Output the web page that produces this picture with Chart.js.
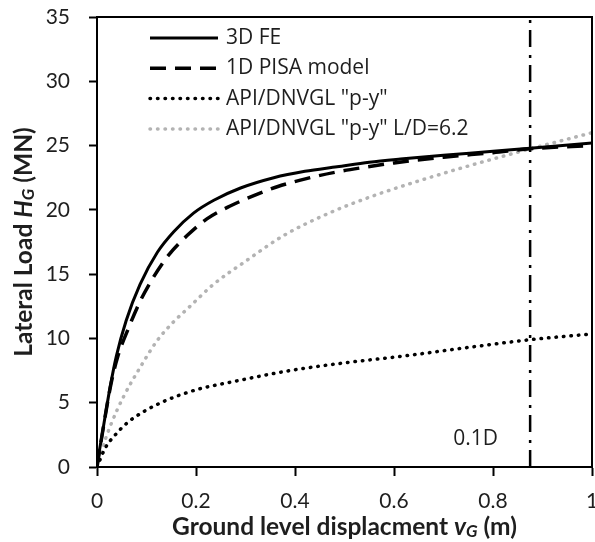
<!DOCTYPE html>
<html>
<head>
<meta charset="utf-8">
<script src="https://cdn.jsdelivr.net/npm/chart.js@4.4.1/dist/chart.umd.min.js"></script>
<style>
  html, body { margin: 0; padding: 0; background: #fff; }
  #wrap { width: 595px; height: 542px; }
</style>
</head>
<body>
<div id="wrap"><canvas id="loadChart" width="595" height="542"></canvas></div>
<script>
// Data (displacement in m, load in MN)
const seriesNames = ['3D FE', '1D PISA model', 'API/DNVGL "p-y"', 'API/DNVGL "p-y" L/D=6.2'];

const dispFE = [0, 0.005, 0.012, 0.0255, 0.039, 0.059, 0.087, 0.122, 0.155, 0.195, 0.236, 0.29, 0.357, 0.42, 0.485, 0.55, 0.613, 0.7, 0.8, 0.875, 1.0];
const loadFE = [0, 1.3, 2.9, 6.0, 8.6, 11.4, 14.2, 16.7, 18.3, 19.75, 20.75, 21.7, 22.5, 23.0, 23.35, 23.7, 23.95, 24.25, 24.55, 24.8, 25.2];

const dispPISA = [0, 0.012, 0.029, 0.042, 0.0626, 0.086, 0.113, 0.145, 0.182, 0.222, 0.269, 0.323, 0.364, 0.425, 0.485, 0.539, 0.6, 0.7, 0.8, 0.875, 1.0];
const loadPISA = [0, 2.9, 6.6, 8.6, 10.7, 12.8, 14.7, 16.5, 18.0, 19.3, 20.3, 21.2, 21.8, 22.45, 22.95, 23.3, 23.65, 24.1, 24.45, 24.75, 25.0];

const dispAPI = [0, 0.017, 0.037, 0.06, 0.094, 0.141, 0.2, 0.283, 0.39, 0.5, 0.613, 0.75, 0.875, 1.0];
const loadAPI = [0, 1.5, 2.5, 3.4, 4.3, 5.2, 6.0, 6.7, 7.5, 8.1, 8.6, 9.3, 9.9, 10.35];

const dispAPI62 = [0, 0.007, 0.027, 0.054, 0.088, 0.121, 0.155, 0.188, 0.235, 0.3, 0.377, 0.472, 0.559, 0.646, 0.749, 0.871, 1.0];
const loadAPI62 = [0, 1.0, 3.2, 5.5, 7.8, 9.8, 11.3, 12.5, 14.2, 16.0, 18.0, 19.8, 21.1, 22.2, 23.4, 24.7, 26.0];

// 0.1D marker (D = 8.75 m)
const markerDisp = 0.875;
const markerLoads = [0, 35];

const xTicks = [0, 0.2, 0.4, 0.6, 0.8, 1];
const yTicks = [0, 5, 10, 15, 20, 25, 30, 35];

const FONT = 'Lato, "Open Sans", sans-serif';
const LEG_FONT = '"Open Sans", Lato, sans-serif';
const TEXT = '#1e1e1e';

function pts(xs, ys) {
  return xs.map((x, i) => ({ x: x, y: ys[i] }));
}

function drawParts(ctx, parts, cx, cy) {
  let total = 0;
  parts.forEach(p => { ctx.font = p.font; p.w = ctx.measureText(p.text).width; total += p.w; });
  let x = cx - total / 2;
  ctx.textBaseline = 'middle';
  ctx.textAlign = 'left';
  parts.forEach(p => {
    ctx.font = p.font;
    ctx.fillText(p.text, x, cy + (p.dy || 0));
    x += p.w;
  });
}

// keep the plot box where the figure has it (no extra room for edge labels)
function noPad(s) {
  s.paddingLeft = 0; s.paddingRight = 0; s.paddingTop = 0; s.paddingBottom = 0;
}

const decorations = {
  id: 'decorations',
  afterDraw(chart) {
    const ctx = chart.ctx;
    const a = chart.chartArea;
    const xs = chart.scales.x, ys = chart.scales.y;
    ctx.save();

    // plot frame
    ctx.strokeStyle = '#000';
    ctx.lineWidth = 2;
    ctx.strokeRect(a.left, a.top, a.right - a.left, a.bottom - a.top);

    // legend
    const lx0 = a.left + 53, lx1 = a.left + 121, tx = a.left + 129;
    chart.data.datasets.slice(0, 4).forEach((ds, i) => {
      const y = a.top + 21 + i * 30.3;
      ctx.beginPath();
      ctx.strokeStyle = ds.borderColor;
      ctx.lineWidth = ds.borderWidth;
      ctx.lineCap = ds.borderCapStyle || 'butt';
      ctx.setLineDash(ds.borderDash || []);
      ctx.moveTo(lx0, y);
      ctx.lineTo(lx1, y);
      ctx.stroke();
      ctx.setLineDash([]);
      ctx.fillStyle = TEXT;
      ctx.font = '21px ' + LEG_FONT;
      ctx.textAlign = 'left';
      ctx.textBaseline = 'middle';
      ctx.fillText(seriesNames[i], tx, y);
    });

    // 0.1D label
    ctx.fillStyle = TEXT;
    ctx.font = '21px ' + LEG_FONT;
    ctx.textAlign = 'right';
    ctx.textBaseline = 'middle';
    ctx.fillText('0.1D', xs.getPixelForValue(0.81), ys.getPixelForValue(2.2));

    // axis titles
    const b = 'bold 24.5px ' + FONT, bi = 'italic bold 24.5px ' + FONT, sub = 'italic bold 17px ' + FONT;
    drawParts(ctx, [
      { text: 'Ground level displacment ', font: b },
      { text: 'v', font: bi },
      { text: 'G', font: sub, dy: 5 },
      { text: ' (m)', font: b }
    ], (a.left + a.right) / 2, 527);

    ctx.translate(24, (a.top + a.bottom) / 2);
    ctx.rotate(-Math.PI / 2);
    drawParts(ctx, [
      { text: 'Lateral Load ', font: b },
      { text: 'H', font: bi },
      { text: 'G', font: sub, dy: 5 },
      { text: ' (MN)', font: b }
    ], 0, 0);
    ctx.restore();
  }
};

new Chart(document.getElementById('loadChart').getContext('2d'), {
  type: 'line',
  data: {
    datasets: [
      { data: pts(dispFE, loadFE), borderColor: '#000', borderWidth: 3, cubicInterpolationMode: 'monotone' },
      { data: pts(dispPISA, loadPISA), borderColor: '#000', borderWidth: 3.5, borderDash: [16, 9], cubicInterpolationMode: 'monotone' },
      { data: pts(dispAPI, loadAPI), borderColor: '#000', borderWidth: 3.5, borderDash: [0.5, 7], borderCapStyle: 'round', cubicInterpolationMode: 'monotone' },
      { data: pts(dispAPI62, loadAPI62), borderColor: '#b3b3b3', borderWidth: 3.5, borderDash: [0.5, 7], borderCapStyle: 'round', cubicInterpolationMode: 'monotone' },
      { data: markerLoads.map(v => ({ x: markerDisp, y: v })), borderColor: '#000', borderWidth: 2.5, borderDash: [17, 7, 3, 8] }
    ]
  },
  options: {
    responsive: false,
    animation: false,
    devicePixelRatio: 1,
    layout: { autoPadding: false, padding: { top: 17, right: 3, left: 0, bottom: 0 } },
    elements: { point: { radius: 0 }, line: { fill: false } },
    plugins: { legend: { display: false }, tooltip: { enabled: false } },
    scales: {
      x: {
        type: 'linear',
        min: 0, max: 1,
        afterFit(s) { s.height = 75; noPad(s); },
        afterBuildTicks(s) { s.ticks = xTicks.map(v => ({ value: v })); },
        grid: { drawOnChartArea: false, drawTicks: true, tickLength: 9, tickColor: '#000', tickWidth: 2 },
        border: { display: true, color: '#000', width: 2 },
        ticks: { padding: 13, color: TEXT, font: { family: FONT, size: 21 }, maxRotation: 0, callback: v => String(v) }
      },
      y: {
        type: 'linear',
        min: 0, max: 35,
        afterFit(s) { s.width = 97; noPad(s); },
        afterBuildTicks(s) { s.ticks = yTicks.map(v => ({ value: v })); },
        grid: { drawOnChartArea: false, drawTicks: true, tickLength: 8, tickColor: '#000', tickWidth: 2 },
        border: { display: true, color: '#000', width: 2 },
        ticks: { padding: 19, color: TEXT, font: { family: FONT, size: 21 }, callback: v => String(v) }
      }
    }
  },
  plugins: [decorations]
});
</script>
</body>
</html>
